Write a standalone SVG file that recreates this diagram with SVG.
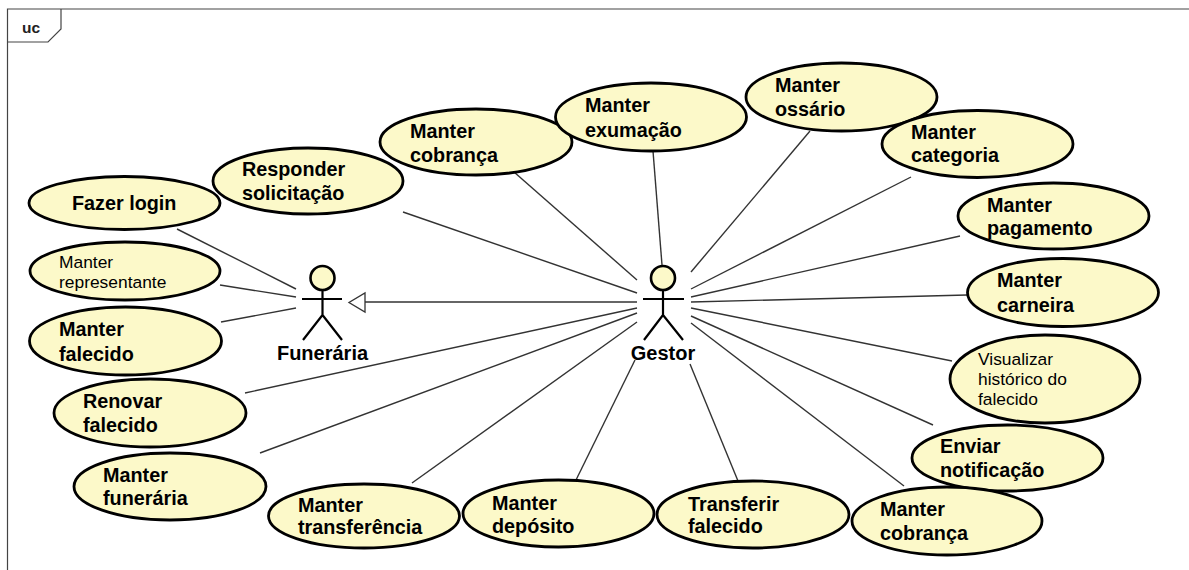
<svg xmlns="http://www.w3.org/2000/svg" width="1189" height="570" viewBox="0 0 1189 570">
<style>
text{font-family:"Liberation Sans",Arial,sans-serif;fill:#000}
.u{fill:#fcf9c9;stroke:#000;stroke-width:2.8}
.b{font-size:19.8px;font-weight:bold}
.s{font-size:17.4px}
.a{font-size:20px;font-weight:bold;text-anchor:middle}
.c line{stroke:#333;stroke-width:1.4}
.f{fill:none;stroke:#444;stroke-width:1.2}
.m{stroke:#000;stroke-width:2.200;fill:none}
.h{fill:#fcf9c9;stroke:#000;stroke-width:2.600}
</style>
<rect width="1189" height="570" fill="#fff"/>
<g id="frame">
<path class="f" d="M1189 9H7.500V570"/>
<path class="f" d="M7.500 42H48L61 29V9"/>
<text x="22" y="33" style="font-size:15.5px;font-weight:bold;fill:#222">uc</text>
</g>
<g id="connectors" class="c">
<line x1="177" y1="229" x2="296" y2="289"/>
<line x1="220" y1="285" x2="296" y2="297"/>
<line x1="221" y1="322" x2="296" y2="308"/>
<line x1="403" y1="212" x2="637" y2="293"/>
<line x1="514" y1="172" x2="637" y2="280"/>
<line x1="653" y1="151" x2="662" y2="265"/>
<line x1="810" y1="131" x2="691" y2="272"/>
<line x1="911" y1="177" x2="691" y2="289"/>
<line x1="960" y1="236" x2="691" y2="297"/>
<line x1="967" y1="295" x2="691" y2="302"/>
<line x1="952" y1="361" x2="691" y2="308"/>
<line x1="933" y1="425" x2="691" y2="316"/>
<line x1="904" y1="486" x2="691" y2="323"/>
<line x1="738" y1="481" x2="690" y2="364"/>
<line x1="576" y1="480" x2="635" y2="360"/>
<line x1="412" y1="483" x2="637" y2="322"/>
<line x1="260" y1="453" x2="637" y2="313"/>
<line x1="245" y1="393" x2="637" y2="308"/>
<line x1="637" y1="302" x2="365" y2="302"/>
<path d="M365 293V312L349 302.500Z" fill="#fff" stroke="#333" stroke-width="1.300"/>
</g>
<g id="fazer-login"><ellipse class="u" cx="124.500" cy="203" rx="95.500" ry="26.500"/><text class="b" x="72" y="210">Fazer login</text></g>
<g id="manter-representante"><ellipse class="u" cx="125" cy="271" rx="95" ry="29"/><text class="s" x="59" y="268">Manter</text><text class="s" x="59" y="288">representante</text></g>
<g id="manter-falecido"><ellipse class="u" cx="125.500" cy="341" rx="96" ry="34"/><text class="b" x="59" y="336">Manter</text><text class="b" x="59" y="361">falecido</text></g>
<g id="responder-solicitacao"><ellipse class="u" cx="308" cy="181" rx="95" ry="33"/><text class="b" x="242" y="176">Responder</text><text class="b" x="242" y="200">solicitação</text></g>
<g id="manter-cobranca-1"><ellipse class="u" cx="476" cy="142" rx="96" ry="33"/><text class="b" x="410" y="138">Manter</text><text class="b" x="410" y="162">cobrança</text></g>
<g id="manter-exumacao"><ellipse class="u" cx="651" cy="117" rx="95.500" ry="34"/><text class="b" x="585" y="112">Manter</text><text class="b" x="585" y="137">exumação</text></g>
<g id="manter-ossario"><ellipse class="u" cx="841.500" cy="97" rx="95.500" ry="34"/><text class="b" x="775" y="92">Manter</text><text class="b" x="775" y="116">ossário</text></g>
<g id="manter-categoria"><ellipse class="u" cx="977.500" cy="144" rx="95.500" ry="33.500"/><text class="b" x="911" y="139">Manter</text><text class="b" x="911" y="162">categoria</text></g>
<g id="manter-pagamento"><ellipse class="u" cx="1053.500" cy="216" rx="95.500" ry="33"/><text class="b" x="987" y="212">Manter</text><text class="b" x="987" y="235">pagamento</text></g>
<g id="manter-carneira"><ellipse class="u" cx="1063" cy="292.500" rx="95.500" ry="34"/><text class="b" x="997" y="287">Manter</text><text class="b" x="997" y="312">carneira</text></g>
<g id="visualizar-historico"><ellipse class="u" cx="1045" cy="379" rx="95" ry="44"/><text class="s" x="978" y="365">Visualizar</text><text class="s" x="978" y="385">histórico do</text><text class="s" x="978" y="405">falecido</text></g>
<g id="enviar-notificacao"><ellipse class="u" cx="1007.500" cy="458" rx="95.500" ry="33"/><text class="b" x="940" y="453">Enviar</text><text class="b" x="940" y="477">notificação</text></g>
<g id="manter-cobranca-2"><ellipse class="u" cx="947" cy="521" rx="95" ry="34"/><text class="b" x="880" y="516">Manter</text><text class="b" x="880" y="540">cobrança</text></g>
<g id="transferir-falecido"><ellipse class="u" cx="753" cy="514.500" rx="96" ry="33.500"/><text class="b" x="688" y="511">Transferir</text><text class="b" x="688" y="533">falecido</text></g>
<g id="manter-deposito"><ellipse class="u" cx="558.500" cy="513.500" rx="95.500" ry="33.500"/><text class="b" x="492" y="510">Manter</text><text class="b" x="492" y="533">depósito</text></g>
<g id="manter-transferencia"><ellipse class="u" cx="364" cy="516" rx="95.500" ry="32"/><text class="b" x="298" y="512">Manter</text><text class="b" x="298" y="534">transferência</text></g>
<g id="manter-funeraria"><ellipse class="u" cx="170" cy="486.500" rx="96" ry="33.500"/><text class="b" x="103" y="482">Manter</text><text class="b" x="103" y="505">funerária</text></g>
<g id="renovar-falecido"><ellipse class="u" cx="150" cy="413" rx="96" ry="34"/><text class="b" x="83" y="408">Renovar</text><text class="b" x="83" y="432">falecido</text></g>
<g id="funeraria"><circle class="h" cx="322.500" cy="278" r="12"/><path class="m" d="M322.500 290V315M302 299H342M322.500 315L303 340M322.500 315L342 340"/><text class="a" x="322.500" y="360">Funerária</text></g>
<g id="gestor"><circle class="h" cx="663" cy="278" r="12"/><path class="m" d="M663 290V315M643 299H684M663 315L644 340M663 315L683 340"/><text class="a" x="663" y="360">Gestor</text></g>
</svg>
